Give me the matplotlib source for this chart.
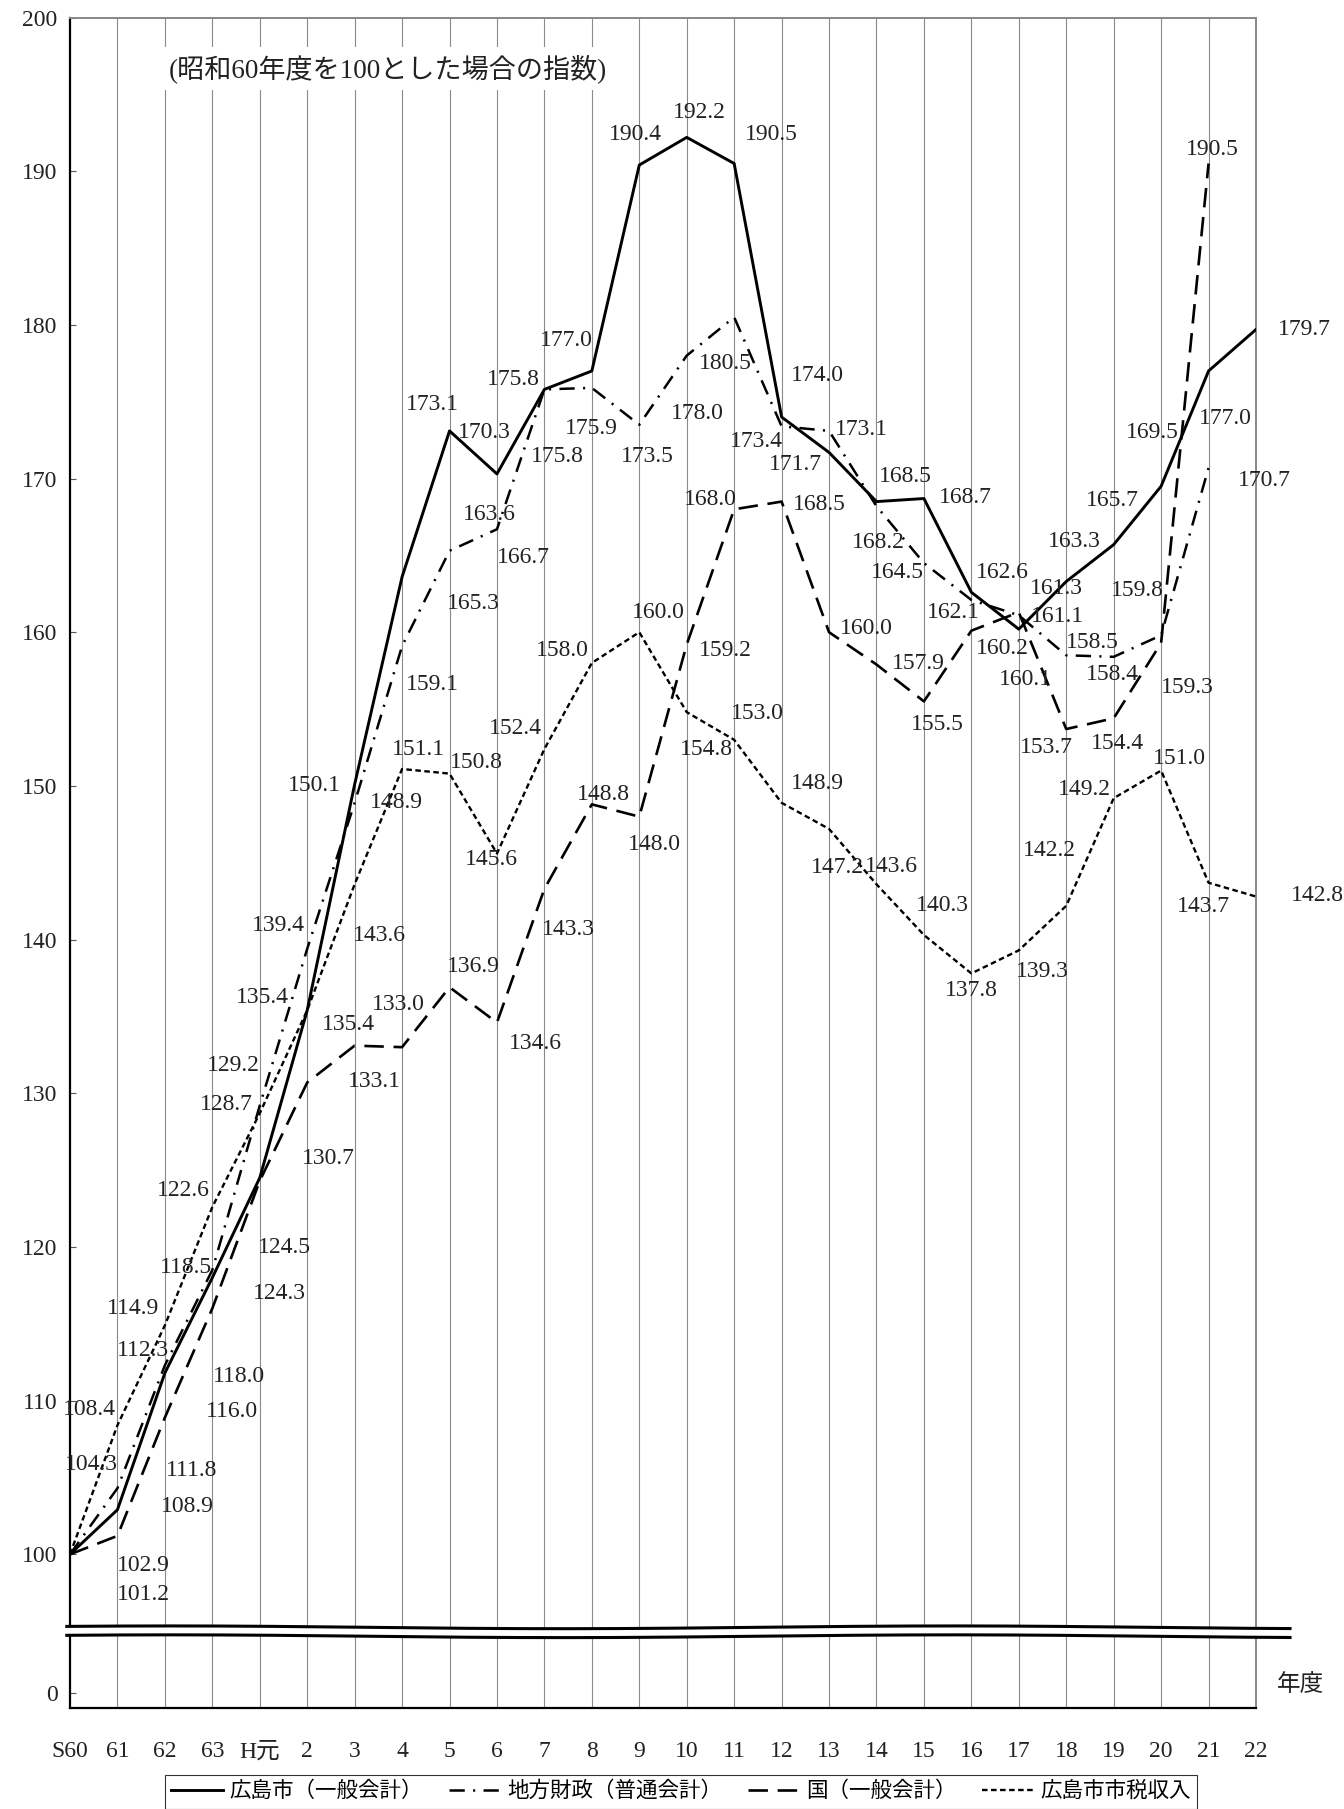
import numpy as np
import matplotlib
matplotlib.use("Agg")
import matplotlib.pyplot as plt
from matplotlib.lines import Line2D

# === DATA ===
years = ["S60", "61", "62", "63", "H元", "2", "3", "4", "5", "6", "7", "8", "9",
         "10", "11", "12", "13", "14", "15", "16", "17", "18", "19", "20", "21", "22"]

city = [100, 102.9, 111.8, 118.0, 124.5, 135.4, 150.1, 163.6, 173.1, 170.3, 175.8, 177.0, 190.4,
        192.2, 190.5, 174.0, 171.7, 168.5, 168.7, 162.6, 160.2, 163.3, 165.7, 169.5, 177.0, 179.7]
local = [100, 104.3, 112.3, 118.5, 129.2, 139.4, 148.9, 159.1, 165.3, 166.7, 175.8, 175.9, 173.5,
         178.0, 180.5, 173.4, 173.1, 168.2, 164.5, 162.1, 161.1, 158.5, 158.4, 159.8, 170.7]
nation = [100, 101.2, 108.9, 116.0, 124.3, 130.7, 133.1, 133.0, 136.9, 134.6, 143.3, 148.8, 148.0,
          159.2, 168.0, 168.5, 160.0, 157.9, 155.5, 160.1, 161.3, 153.7, 154.4, 159.3, 190.5]
tax = [100, 108.4, 114.9, 122.6, 128.7, 135.4, 143.6, 151.1, 150.8, 145.6, 152.4, 158.0, 160.0,
       154.8, 153.0, 148.9, 147.2, 143.6, 140.3, 137.8, 139.3, 142.2, 149.2, 151.0, 143.7, 142.8]

names = ["広島市（一般会計）", "地方財政（普通会計）", "国（一般会計）", "広島市市税収入"]

# === LABEL OFFSETS (points) ===
city_off = [None, (19, -40), (19, -70), (19, -71), (18, -50), (30, -10), (-29, -1), (63, 45),
            (-12, 19), (-9, 30), (-22, 7), (-18, 22), (-3, 22), (9, 18), (27, 21), (26, 30),
            (-24, -9), (21, 18), (30, 1), (22, 14), (-12, -14), (6, 29), (-1, 32), (-6, 39),
            (12, -34), (35, 0)]
local_off = [None, (-19, 17), (-16, 11), (-19, 2), (-19, 29), (-21, 17), (30, 0), (22, -28),
             (17, -38), (19, -20), (9, -48), (0, -29), (6, -23), (8, -42), (-6, -33), (-18, -11),
             (23, 1), (1, -26), (-19, -7), (-13, -9), (28, -1), (19, 9), (-1, -13), (-17, 32),
             (40, -9)]
nation_off = [None, (19, -42), (16, -64), (14, -74), (14, -81), (15, -55), (14, -26), (-3, 31),
              (17, 15), (28, -15), (17, -29), (8, 7), (11, -20), (28, -4), (-17, 7), (27, -2),
              (27, 3), (30, 1), (10, -17), (39, -35), (27, 17), (-14, -13), (3, -18), (19, -32),
              (3, 10)]
tax_off = [None, (-20, 11), (-23, 12), (-21, 12), (-24, 6), (-32, 9), (18, -37), (12, 14),
           (19, 8), (-4, -4), (-21, 15), (-21, 9), (14, 14), (14, -27), (17, 19), (26, 14),
           (6, -28), (11, 13), (13, 21), (0, -12), (17, -15), (-12, 40), (-21, 6), (13, 9),
           (-4, -17), (44, 1)]

FONT = ["Liberation Serif", "Noto Sans CJK JP", "DejaVu Sans"]
plt.rcParams["font.family"] = FONT
plt.rcParams["lines.scale_dashes"] = False
FS = 17
TXT = "#222222"

fig = plt.figure(figsize=(13.44, 18.09), dpi=100)
ax = fig.add_axes([70 / 1344, 1 - 1708 / 1809, 1186 / 1344, (1708 - 17.5) / 1809])

x_all = np.arange(len(years))

# gridlines
for i in range(1, len(years) - 1):
    ax.axvline(i, color="#8a8a8a", lw=0.8, zorder=0)

styles = [
    dict(color="black", lw=2.1, linestyle="-"),
    dict(color="black", lw=1.8, linestyle=(0, (11, 6, 1.5, 6))),
    dict(color="black", lw=1.9, linestyle=(0, (14, 7))),
    dict(color="black", lw=1.7, linestyle=(0, (4, 2.5))),
]
series = [city, local, nation, tax]
offsets = [city_off, local_off, nation_off, tax_off]

handles = []
for vals, offs, st, nm in zip(series, offsets, styles, names):
    xs = x_all[:len(vals)]
    ax.plot(xs, vals, zorder=3, **st)
    handles.append(Line2D([], [], label=nm, **st))
    for i, v in enumerate(vals):
        if offs[i] is None:
            continue
        ax.annotate(f"{v:.1f}", (xs[i], v), xytext=offs[i], textcoords="offset points",
                    ha="center", va="center", fontsize=FS, color=TXT, zorder=4)

ax.set_xlim(0, len(years) - 1)
ax.set_ylim(90, 200)

yt = [91] + list(range(100, 201, 10))
ax.set_yticks(yt)
ax.set_yticklabels(["0"] + [str(v) for v in range(100, 201, 10)], fontsize=FS, color=TXT)
ax.tick_params(axis="y", direction="in", length=4, width=0.8, pad=9, colors="#555555",
               labelcolor=TXT)
ax.set_xticks(x_all)
ax.set_xticklabels(years, fontsize=FS, color=TXT)
ax.tick_params(axis="x", length=0, pad=24)

for s in ["left", "bottom"]:
    ax.spines[s].set_color("black")
    ax.spines[s].set_linewidth(1.6)
for s in ["top", "right"]:
    ax.spines[s].set_color("#888888")
    ax.spines[s].set_linewidth(1.4)

# title inside the plot
ax.text(0.268, 0.970, "(昭和60年度を100とした場合の指数)", transform=ax.transAxes,
        ha="center", va="center", fontsize=19.5, color=TXT, zorder=5,
        bbox=dict(facecolor="white", edgecolor="none", pad=5))

# axis break
xb = np.linspace(-0.1, 25.75, 300)
wave = 0.09 * np.sin(2 * np.pi * (xb + 2) / 16.5)
up = 95.25 + wave
lo = 94.67 + wave
ax.fill_between(xb, lo, up, color="white", zorder=6, clip_on=False, lw=0)
ax.plot(xb, up, color="black", lw=2.2, zorder=7, clip_on=False, solid_capstyle="butt")
ax.plot(xb, lo, color="black", lw=2.2, zorder=7, clip_on=False, solid_capstyle="butt")

fig.text(1301 / 1344, 1 - 1685 / 1809, "年度", ha="center", va="center", fontsize=FS, color=TXT)

leg = fig.legend(handles=handles, loc="upper center", bbox_to_anchor=(681 / 1344, 1 - 1775 / 1809),
                 ncol=4, fontsize=15.5, frameon=True, fancybox=False, handlelength=2.4,
                 columnspacing=1.2, handletextpad=0.3, borderpad=0.3, borderaxespad=0)
leg.get_frame().set_edgecolor("black")
leg.get_frame().set_linewidth(0.8)

fig.savefig("out.png", dpi=100)
